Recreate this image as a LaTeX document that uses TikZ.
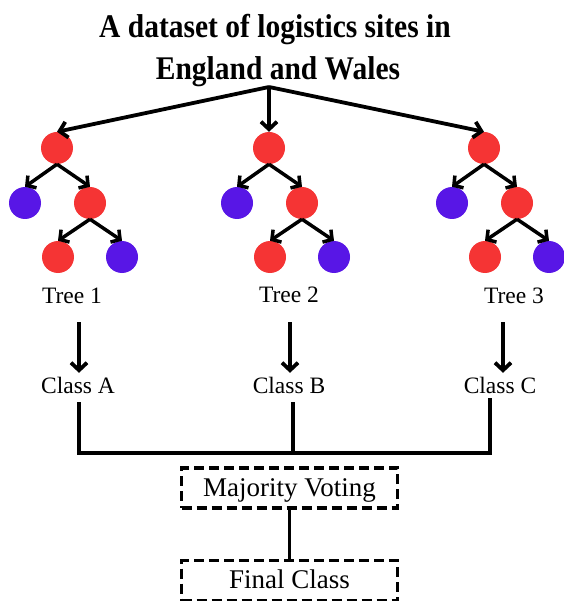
\documentclass[tikz,border=0pt]{standalone}
\usepackage{fontspec}
\usepackage{graphicx}
\setmainfont{Liberation Serif}
\usetikzlibrary{arrows.meta}

\definecolor{leafred}{RGB}{245,52,52}
\definecolor{leafblue}{RGB}{88,22,230}

\begin{document}
\begin{tikzpicture}[x=1pt,y=-1pt,
  redball/.style={circle,fill=leafred,draw=none,minimum size=32pt,inner sep=0pt},
  blueball/.style={circle,fill=leafblue,draw=none,minimum size=32pt,inner sep=0pt},
  branch/.style={line width=3.5pt,-{Straight Barb[length=6.5pt,width=15pt,line width=3.5pt]}},
  feed/.style={line width=3.8pt,-{Straight Barb[length=7.5pt,width=16pt,line width=3.8pt]}},
  wire/.style={line width=3.8pt},
  lbl/.style={font=\fontsize{23.5}{28}\selectfont,inner sep=0pt,text height=17pt,text depth=5pt,anchor=base},
  vote/.style={draw,line width=3.8pt,dash pattern=on 10pt off 5pt,
    font=\fontsize{27}{32}\selectfont,minimum width=216pt,minimum height=40pt,
    inner sep=0pt,text height=18pt,text depth=2pt},
  title/.style={font=\bfseries\fontsize{29.5}{41}\selectfont,align=center,inner sep=0pt,anchor=base}
]
\useasboundingbox (0,0) rectangle (563,601);

% heading, set slightly tall
\node[title] (head) at (275,38) {\scalebox{1}[1.12]{A dataset of logistics sites in}};
\node[title] (head2) at (278,80) {\scalebox{1}[1.12]{England and Wales}};
\coordinate (split) at (269,87);

% one small decision tree per ensemble member
\foreach \t/\rx in {1/57, 2/269, 3/484} {
  \node[redball]  (r\t)  at (\rx,148) {};
  \node[blueball] (a\t)  at (\rx-32,203) {};
  \node[redball]  (b\t)  at (\rx+33,203) {};
  \node[redball]  (c\t)  at (\rx+1,257) {};
  \node[blueball] (d\t)  at (\rx+65,257) {};
  \draw[branch] (r\t.south) -- (a\t.north);
  \draw[branch] (r\t.south) -- (b\t.north);
  \draw[branch] (b\t.south) -- (c\t.north);
  \draw[branch] (b\t.south) -- (d\t.north);
  \draw[feed] (split) -- (r\t.north);
}

% tree names and their predicted classes
\node[lbl] (t1) at (72,303) {Tree 1};
\node[lbl] (t2) at (289,302) {Tree 2};
\node[lbl] (t3) at (514,303) {Tree 3};
\node[lbl] (k1) at (78,393) {Class A};
\node[lbl] (k2) at (289,393) {Class B};
\node[lbl] (k3) at (500,393) {Class C};

\draw[feed,shorten <=14pt,shorten >=3pt] ([xshift=1pt]k1.north |- t1.south) -- ([xshift=1pt]k1.north);
\draw[feed,shorten <=15pt,shorten >=3pt] ([xshift=1pt]k2.north |- t2.south) -- ([xshift=1pt]k2.north);
\draw[feed,shorten <=14pt,shorten >=3pt] ([xshift=3pt]k3.north |- t3.south) -- ([xshift=3pt]k3.north);

% aggregation
\node[vote] (mv) at (289.5,488) {Majority Voting};
\node[vote] (fc) at (289.5,580.5) {Final Class};
\coordinate (bus) at (0,453);

\draw[wire,shorten <=4pt] ([xshift=1pt]k1.south) |- ([xshift=-10pt]k3.south |- bus) -- ([xshift=-10pt]k3.south);
\draw[wire,shorten <=4pt] ([xshift=4pt]k2.south) -- ([xshift=4pt]k2.south |- bus);
\draw[wire] (mv.south) -- (fc.north);
\end{tikzpicture}
\end{document}
